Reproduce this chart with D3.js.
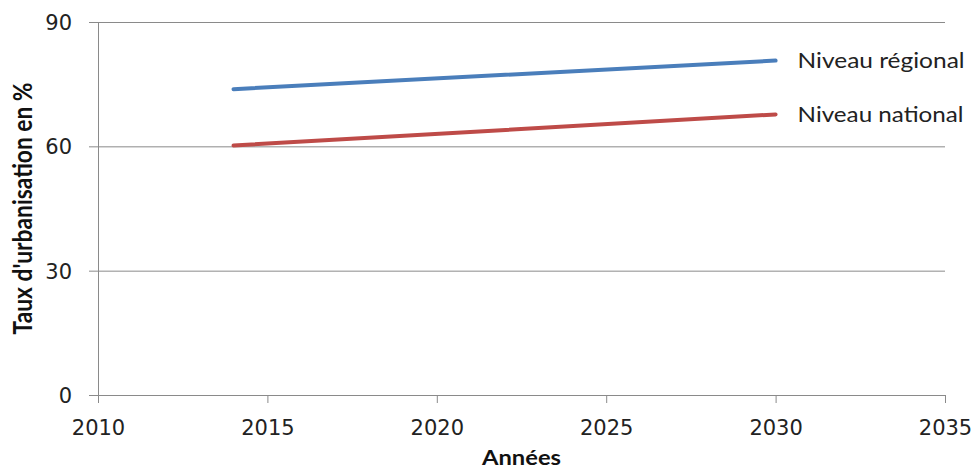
<!DOCTYPE html>
<html>
<head>
<meta charset="utf-8">
<script src="https://cdn.jsdelivr.net/npm/d3@7"></script>
<style>
  html, body { margin: 0; padding: 0; background: #fff; }
  svg { display: block; }
</style>
</head>
<body>
<svg id="chart" width="972" height="470"></svg>
<script>
const years = [2014, 2030];
const regional = [73.8, 80.7];
const national = [60.2, 67.7];
const seriesNames = ["Niveau régional", "Niveau national"];
const xTicks = [2010, 2015, 2020, 2025, 2030, 2035];
const yTicks = [0, 30, 60, 90];
const xTitle = "Années";
const yTitle = "Taux d'urbanisation en %";

(function () {
const svg = d3.select("#chart");
const pLeft = 98, pRight = 945, pTop = 22, pBottom = 395;
const x = d3.scaleLinear().domain([2010, 2035]).range([pLeft, pRight]);
const y = d3.scaleLinear().domain([0, 90]).range([pBottom, pTop]);
const axisColor = "#8a8a8a";
const tickFont = "'DejaVu Sans', Verdana, sans-serif";
const textFont = "Lato, 'Open Sans', sans-serif";

// gridlines
svg.append("g")
  .attr("transform", `translate(${pLeft},0)`)
  .call(d3.axisLeft(y).tickValues(yTicks.filter(v => v > 0)).tickSize(-(pRight - pLeft)).tickFormat(""))
  .call(g => g.select(".domain").remove())
  .call(g => g.selectAll("line").attr("stroke", axisColor).attr("stroke-width", 1));

// y axis
const yAxis = svg.append("g")
  .attr("transform", `translate(${pLeft},0)`)
  .call(d3.axisLeft(y).tickValues(yTicks).tickSize(9).tickSizeOuter(0).tickPadding(17));
yAxis.select(".domain").attr("stroke", axisColor);
yAxis.selectAll("line").attr("stroke", axisColor);
yAxis.selectAll("text")
  .attr("font-family", tickFont).attr("font-size", 21).attr("fill", "#222").attr("dy", "0.36em");

// x axis
const xAxis = svg.append("g")
  .attr("transform", `translate(0,${pBottom})`)
  .call(d3.axisBottom(x).tickValues(xTicks).tickFormat(d3.format("d")).tickSize(8).tickSizeOuter(0).tickPadding(17));
xAxis.select(".domain").attr("stroke", axisColor);
xAxis.selectAll("line").attr("stroke", axisColor);
xAxis.selectAll("text")
  .attr("font-family", tickFont).attr("font-size", 21).attr("fill", "#222");

// lines
const series = [
  { name: seriesNames[0], values: regional, color: "#4a7ebb" },
  { name: seriesNames[1], values: national, color: "#be4b48" }
];
const line = d3.line().x((d, i) => x(years[i])).y(d => y(d));
series.forEach((s, k) => {
  svg.append("path")
    .datum(s.values)
    .attr("d", line)
    .attr("fill", "none")
    .attr("stroke", s.color)
    .attr("stroke-width", 4)
    .attr("stroke-linecap", "round");
  const last = s.values[s.values.length - 1];
  svg.append("text")
    .attr("x", x(years[years.length - 1]) + 22)
    .attr("y", y(last) + 7.5)
    .attr("font-family", textFont)
    .attr("font-size", 21)
    .attr("fill", "#222")
    .attr("textLength", k === 0 ? 167 : 166)
    .attr("lengthAdjust", "spacingAndGlyphs")
    .text(s.name);
});

// axis titles
svg.append("text")
  .attr("transform", `translate(32,${(pTop + pBottom) / 2}) rotate(-90) scale(1,1.3)`)
  .attr("text-anchor", "middle")
  .attr("font-family", textFont)
  .attr("font-weight", "bold")
  .attr("font-size", 20)
  .attr("fill", "#111")
  .attr("textLength", 252)
  .attr("lengthAdjust", "spacingAndGlyphs")
  .text(yTitle);

svg.append("text")
  .attr("x", (pLeft + pRight) / 2)
  .attr("y", 465)
  .attr("text-anchor", "middle")
  .attr("font-family", textFont)
  .attr("font-weight", "bold")
  .attr("font-size", 20)
  .attr("fill", "#111")
  .attr("textLength", 79)
  .attr("lengthAdjust", "spacingAndGlyphs")
  .text(xTitle);
})();
</script>
</body>
</html>
